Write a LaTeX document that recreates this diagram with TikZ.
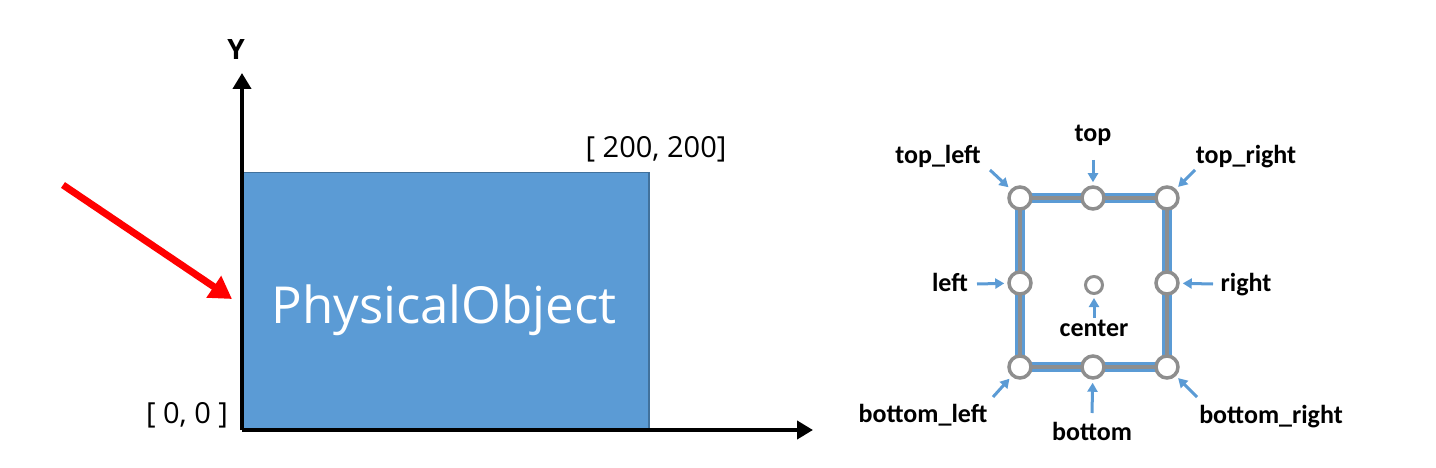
\documentclass[tikz,border=0pt]{standalone}
\usepackage{fontspec}
\setmainfont{Open Sans}
\newfontfamily\lblfont{Carlito}
\usetikzlibrary{arrows.meta}
\definecolor{objblue}{HTML}{5B9BD5}
\definecolor{objedge}{HTML}{41719C}
\definecolor{ringgray}{HTML}{8E8E8E}
\definecolor{redarr}{HTML}{FF0000}
\begin{document}
\begin{tikzpicture}[x=1pt,y=-1pt,
  axis/.style={line width=4pt,-{Triangle[length=16pt,width=18pt]}},
  redpointer/.style={draw=redarr,line width=7pt,-{Triangle[length=22pt,width=25pt]}},
  pointer/.style={draw=objblue,line width=3pt,-{Triangle[length=9pt,width=10pt]},shorten >=3pt},
  handle/.style={circle,draw=ringgray,fill=white,line width=3.5pt,minimum size=22pt,inner sep=0pt},
  handlesmall/.style={handle,minimum size=17pt,line width=3pt},
  lbl/.style={font=\lblfont\bfseries\fontsize{26}{26}\selectfont,anchor=base,inner sep=0pt},
  coordtext/.style={font=\fontsize{29}{29}\selectfont,anchor=base,inner sep=0pt}
]
\useasboundingbox (0,0) rectangle (1436,468);
% ---------- left diagram ----------
\node[fill=objblue,draw=objedge,line width=1.5pt,minimum width=406pt,minimum height=258pt,
      anchor=north west,inner sep=0pt] (obj) at (242,172) {};
\node[anchor=base,inner sep=0pt,text=white,font=\fontsize{51}{51}\selectfont] (objlabel) at (444,323) {PhysicalObject};
\coordinate (O) at (242,430);
\coordinate (ytip) at (242,73);
\coordinate (xtip) at (813,430);
\draw[axis] (O) -- (ytip);
\draw[axis] (O) -- (xtip);
\node[anchor=base,inner sep=0pt,font=\bfseries\fontsize{28}{28}\selectfont] (ylab) at (236,60) {Y};
\node[coordtext] (maxlab) at (656,158) {[ 200, 200]};
\node[coordtext] (minlab) at (187,423) {[ 0, 0 ]};
\coordinate (redS) at (63,185);
\coordinate (redE) at (232,299);
\draw[redpointer] (redS) -- (redE);
% ---------- right diagram ----------
\coordinate (cTL) at (1020,198);
\coordinate (cT) at (1093,198);
\coordinate (cTR) at (1167,198);
\coordinate (cL) at (1020,283);
\coordinate (cC) at (1094,285);
\coordinate (cR) at (1167,283);
\coordinate (cBL) at (1020,367);
\coordinate (cB) at (1093,367);
\coordinate (cBR) at (1167,367);
\draw[objblue,line width=10pt] (cTL) rectangle (cBR);
\draw[ringgray,line width=4pt] (cTL) rectangle (cBR);
\node[handle] (hTL) at (cTL) {};
\node[handle] (hT) at (cT) {};
\node[handle] (hTR) at (cTR) {};
\node[handle] (hL) at (cL) {};
\node[handlesmall] (hC) at (cC) {};
\node[handle] (hR) at (cR) {};
\node[handle] (hBL) at (cBL) {};
\node[handle] (hB) at (cB) {};
\node[handle] (hBR) at (cBR) {};
% labels
\node[lbl] (lT) at (1093,142) {top};
\node[lbl] (lTL) at (938,164) {top\_left};
\node[lbl] (lTR) at (1246,164) {top\_right};
\node[lbl] (lL) at (950,291) {left};
\node[lbl] (lR) at (1246,291) {right};
\node[lbl] (lC) at (1094,336) {center};
\node[lbl] (lBL) at (923,422) {bottom\_left};
\node[lbl] (lB) at (1092,440) {bottom};
\node[lbl] (lBR) at (1271,423) {bottom\_right};
% pointer starts
\coordinate (sT) at (1093,160);
\coordinate (sTL) at (990,170);
\coordinate (sTR) at (1195,170);
\coordinate (sL) at (977,284);
\coordinate (sR) at (1213,284);
\coordinate (sC) at (1094,318);
\coordinate (sBL) at (993,397);
\coordinate (sB) at (1092,413);
\coordinate (sBR) at (1197,397);
\draw[pointer] (sT) -- (hT);
\draw[pointer] (sTL) -- (hTL);
\draw[pointer] (sTR) -- (hTR);
\draw[pointer] (sL) -- (hL);
\draw[pointer] (sR) -- (hR);
\draw[pointer] (sC) -- (hC);
\draw[pointer] (sBL) -- (hBL);
\draw[pointer] (sB) -- (hB);
\draw[pointer] (sBR) -- (hBR);
\end{tikzpicture}
\end{document}
